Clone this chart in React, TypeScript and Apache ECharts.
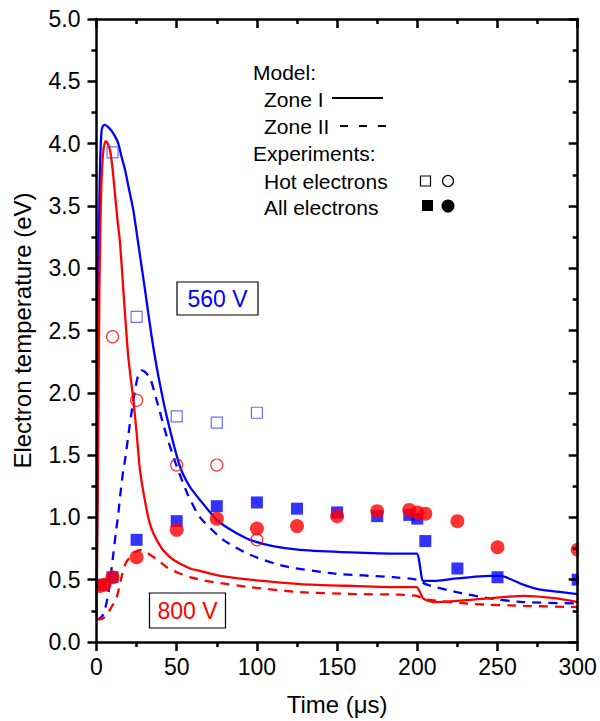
import React, { useEffect, useRef } from "react";
import * as echarts from "echarts";

// ---- axis ticks ----
const xTicks = [0, 50, 100, 150, 200, 250, 300];
const yTicks = [0, 0.5, 1, 1.5, 2, 2.5, 3, 3.5, 4, 4.5, 5];

// ---- model curves: [time (us), Te (eV)] ----
const zone1_560 = [
  [0, 0.3], [0.5, 1.2], [1.1, 2.83], [2, 3.7], [3, 4.08], [3.9, 4.14], [5.3, 4.15], [7.5, 4.13],
  [9.5, 4.1], [11.5, 4.06], [13.6, 4.0], [15.5, 3.9], [17.8, 3.79], [20, 3.65], [22.9, 3.47],
  [26, 3.2], [30.2, 2.83], [34.4, 2.45], [38.5, 2.14], [43.8, 1.81], [52, 1.41], [58, 1.25],
  [64.5, 1.14], [75, 0.98], [85, 0.89], [95.7, 0.82], [110, 0.77], [127, 0.74], [158, 0.72],
  [189, 0.71], [199.6, 0.71], [203.7, 0.49], [210, 0.49], [224.6, 0.51], [245, 0.53], [252, 0.53],
  [266, 0.46], [276.5, 0.42], [290, 0.4], [300, 0.385],
];
const zone1_800 = [
  [0, 0.2], [0.8, 1.2], [1.8, 2.83], [2.5, 3.4], [3.2, 3.73], [4.3, 3.95], [5.7, 4.02], [7, 4.0],
  [8.4, 3.95], [10, 3.8], [11.5, 3.6], [13, 3.4], [14.7, 3.2], [16.7, 2.83], [19.8, 2.29],
  [23, 1.94], [25, 1.68], [27.1, 1.38], [31.3, 1.06], [34, 0.92], [37.5, 0.82], [42, 0.73],
  [47.9, 0.66], [58.3, 0.59], [64.5, 0.57], [77, 0.53], [95.7, 0.5], [127, 0.465], [160, 0.45],
  [189, 0.44], [199.6, 0.44], [203.7, 0.35], [210, 0.32], [235, 0.34], [266, 0.37], [287, 0.35],
  [300, 0.32],
];
const zone2_560 = [
  [0, 0.18], [2, 0.19], [4.2, 0.22], [6, 0.3], [7.4, 0.39], [9, 0.55], [10.5, 0.71], [12, 0.87],
  [13.6, 1.03], [15, 1.2], [16.7, 1.38], [17.8, 1.46], [20.9, 1.76], [24, 2.02], [26, 2.14],
  [28.2, 2.18], [30, 2.17], [33.4, 2.12], [37.5, 1.94], [43.8, 1.65], [50, 1.41], [57, 1.18],
  [64.5, 1.0], [79, 0.82], [95.7, 0.7], [116.5, 0.61], [147.6, 0.55], [185, 0.52], [199.6, 0.5],
  [206, 0.46], [224.6, 0.4], [245, 0.35], [266, 0.32], [300, 0.31],
];
const zone2_800 = [
  [0, 0.18], [4.2, 0.19], [8.4, 0.26], [12.6, 0.36], [14.5, 0.46], [16.7, 0.58], [18.5, 0.64],
  [20.9, 0.68], [24, 0.72], [27.1, 0.74], [30, 0.73], [33.4, 0.7], [38, 0.66], [43.8, 0.6],
  [50, 0.56], [58.3, 0.52], [64.5, 0.5], [72.8, 0.48], [95.7, 0.44], [127, 0.4], [160, 0.385],
  [189, 0.38], [199.6, 0.37], [206, 0.34], [235, 0.305], [266, 0.29], [300, 0.28],
];

// ---- experiments ----
const hot560 = [[10, 3.93], [25, 2.61], [50, 1.81], [75, 1.76], [100, 1.84]];
const hot800 = [[10, 2.45], [25, 1.94], [50, 1.42], [75, 1.42], [100, 0.82]];
const all560 = [
  [3, 0.46], [10, 0.52], [25, 0.82], [50, 0.97], [75, 1.09], [100, 1.12], [125, 1.07], [150, 1.04],
  [175, 1.01], [195, 1.02], [200, 0.99], [205, 0.81], [225, 0.59], [250, 0.52], [300, 0.5],
];
const all800 = [
  [2, 0.45], [5, 0.46], [10, 0.52], [25, 0.68], [50, 0.9], [75, 0.99], [100, 0.91], [125, 0.93],
  [150, 1.01], [175, 1.05], [195, 1.06], [200, 1.04], [205, 1.03], [225, 0.97], [250, 0.76],
  [300, 0.74],
];

const FONT = "'Liberation Sans', Arial, sans-serif";
const BLUE = "#0000ff";
const RED = "#ff0000";

export default function App() {
  const ref = useRef<HTMLDivElement>(null);

  useEffect(() => {
    if (!ref.current) return;
    const chart = echarts.init(ref.current, null, { renderer: "svg" });

    const axisLine = { show: true, onZero: false, lineStyle: { color: "#000", width: 2.5 } };
    const tickStyle = { color: "#000", width: 2.5 };
    const xMin = xTicks[0];
    const xMax = xTicks[xTicks.length - 1];
    const xStep = xTicks[1] - xTicks[0];
    const yMin = yTicks[0];
    const yMax = yTicks[yTicks.length - 1];
    const yStep = yTicks[1] - yTicks[0];

    const baseX = {
      type: "value",
      min: xMin,
      max: xMax,
      interval: xStep,
      z: 10,
      axisLine,
      splitLine: { show: false },
      minorSplitLine: { show: false },
    };
    const baseY = {
      type: "value",
      min: yMin,
      max: yMax,
      interval: yStep,
      z: 10,
      axisLine,
      splitLine: { show: false },
      minorSplitLine: { show: false },
    };

    const lineSeries = (data: number[][], color: string, dashed: boolean) => ({
      type: "line",
      data,
      showSymbol: false,
      symbol: "none",
      smooth: 0.2,
      z: 2,
      lineStyle: { color, width: 2.3, type: dashed ? [9, 7] : "solid" },
    });

    const option: any = {
      animation: false,
      backgroundColor: "#fff",
      textStyle: { fontFamily: FONT },
      grid: { left: 96.5, right: 22.3, top: 19, bottom: 79, containLabel: false },
      xAxis: [
        {
          ...baseX,
          position: "bottom",
          axisTick: { show: true, inside: false, length: 9, lineStyle: tickStyle },
          minorTick: { show: true, splitNumber: 2, length: 5, lineStyle: tickStyle },
          axisLabel: { show: true, color: "#000", fontSize: 23, margin: 13, fontFamily: FONT },
          name: "Time (μs)",
          nameLocation: "middle",
          nameGap: 50,
          nameTextStyle: { color: "#000", fontSize: 24, fontFamily: FONT },
        },
        {
          ...baseX,
          position: "top",
          axisTick: { show: true, inside: true, length: 9, lineStyle: tickStyle },
          minorTick: { show: true, splitNumber: 2, length: 5, lineStyle: tickStyle },
          axisLabel: { show: false },
        },
      ],
      yAxis: [
        {
          ...baseY,
          position: "left",
          axisTick: { show: true, inside: false, length: 9, lineStyle: tickStyle },
          minorTick: { show: true, splitNumber: 2, length: 5, lineStyle: tickStyle },
          axisLabel: {
            show: true,
            color: "#000",
            fontSize: 23,
            margin: 16,
            fontFamily: FONT,
            formatter: (v: number) => v.toFixed(1),
          },
          name: "Electron temperature (eV)",
          nameLocation: "middle",
          nameGap: 62,
          nameTextStyle: { color: "#000", fontSize: 24, fontFamily: FONT },
        },
        {
          ...baseY,
          position: "right",
          axisTick: { show: true, inside: true, length: 9, lineStyle: tickStyle },
          minorTick: { show: true, splitNumber: 2, length: 5, lineStyle: tickStyle },
          axisLabel: { show: false },
        },
      ],
      series: [
        lineSeries(zone2_560, BLUE, true),
        lineSeries(zone2_800, RED, true),
        lineSeries(zone1_560, BLUE, false),
        lineSeries(zone1_800, RED, false),
        {
          type: "scatter",
          data: hot560,
          symbol: "rect",
          symbolSize: 11,
          z: 3,
          itemStyle: { color: "rgba(0,0,0,0)", borderColor: "#4646ff", borderWidth: 1.2 },
        },
        {
          type: "scatter",
          data: hot800,
          symbol: "circle",
          symbolSize: 12,
          z: 3,
          itemStyle: { color: "rgba(0,0,0,0)", borderColor: RED, borderWidth: 1.2 },
        },
        {
          type: "scatter",
          data: all560,
          symbol: "rect",
          symbolSize: 12,
          z: 3,
          itemStyle: { color: BLUE },
        },
        {
          type: "scatter",
          data: all800,
          symbol: "circle",
          symbolSize: 14,
          z: 4,
          itemStyle: { color: RED },
        },
      ],
      graphic: [
        // masks outside the plot frame (markers are clipped at the frame)
        { type: "rect", z: 5, silent: true, shape: { x: 0, y: 0, width: 95.2, height: 721 }, style: { fill: "#fff" } },
        { type: "rect", z: 5, silent: true, shape: { x: 579, y: 0, width: 21, height: 721 }, style: { fill: "#fff" } },
        // legend
        { type: "text", z: 20, x: 253, y: 72, style: { text: "Model:", font: `21px ${FONT}`, fill: "#000", verticalAlign: "middle" } },
        { type: "text", z: 20, x: 264, y: 99, style: { text: "Zone I", font: `21px ${FONT}`, fill: "#000", verticalAlign: "middle" } },
        { type: "line", z: 20, shape: { x1: 332, y1: 98, x2: 383, y2: 98 }, style: { stroke: "#000", lineWidth: 2 } },
        { type: "text", z: 20, x: 264, y: 126, style: { text: "Zone II", font: `21px ${FONT}`, fill: "#000", verticalAlign: "middle" } },
        { type: "line", z: 20, shape: { x1: 340, y1: 126, x2: 388, y2: 126 }, style: { stroke: "#000", lineWidth: 2, lineDash: [8, 11] } },
        { type: "text", z: 20, x: 253, y: 153, style: { text: "Experiments:", font: `21px ${FONT}`, fill: "#000", verticalAlign: "middle" } },
        { type: "text", z: 20, x: 264, y: 181, style: { text: "Hot electrons", font: `21px ${FONT}`, fill: "#000", verticalAlign: "middle" } },
        { type: "rect", z: 20, shape: { x: 420.5, y: 176, width: 10, height: 10 }, style: { fill: "none", stroke: "#000", lineWidth: 1.2 } },
        { type: "circle", z: 20, shape: { cx: 448, cy: 181, r: 5.5 }, style: { fill: "none", stroke: "#000", lineWidth: 1.2 } },
        { type: "text", z: 20, x: 264, y: 207, style: { text: "All electrons", font: `21px ${FONT}`, fill: "#000", verticalAlign: "middle" } },
        { type: "rect", z: 20, shape: { x: 422, y: 200, width: 11, height: 11 }, style: { fill: "#000" } },
        { type: "circle", z: 20, shape: { cx: 448, cy: 206, r: 6.5 }, style: { fill: "#000" } },
        // voltage labels
        { type: "rect", z: 20, shape: { x: 177, y: 282, width: 81, height: 33 }, style: { fill: "#fff", stroke: "#000", lineWidth: 1.2 } },
        { type: "text", z: 21, x: 217.5, y: 299, style: { text: "560 V", font: `23px ${FONT}`, fill: BLUE, align: "center", verticalAlign: "middle" } },
        { type: "rect", z: 20, shape: { x: 149.5, y: 593, width: 76, height: 35 }, style: { fill: "#fff", stroke: "#000", lineWidth: 1.2 } },
        { type: "text", z: 21, x: 187.5, y: 611, style: { text: "800 V", font: `23px ${FONT}`, fill: RED, align: "center", verticalAlign: "middle" } },
      ],
    };

    chart.setOption(option);
    return () => chart.dispose();
  }, []);

  return (
    <div
      ref={ref}
      style={{ position: "absolute", left: 0, top: 0, width: 600, height: 721, background: "#fff" }}
    />
  );
}
